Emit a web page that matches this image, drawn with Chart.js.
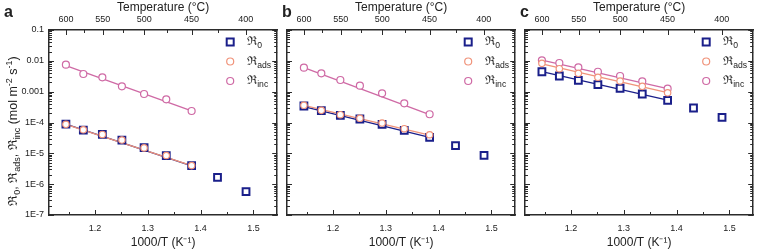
<!DOCTYPE html>
<html>
<head>
<meta charset="utf-8">
<script src="https://cdn.jsdelivr.net/npm/chart.js@4.4.1/dist/chart.umd.min.js"></script>
<style>
  body { margin: 0; background: #fff; }
  #wrap { position: relative; width: 760px; height: 252px; overflow: hidden; }
  canvas { position: absolute; top: 0; }
</style>
</head>
<body>
<div id="wrap">
  <canvas id="chartA" width="284" height="252" style="left:0"></canvas>
  <canvas id="chartB" width="244" height="252" style="left:278px"></canvas>
  <canvas id="chartC" width="244" height="252" style="left:516px"></canvas>
</div>
<script>
// x positions: 1000/T for 600..400 °C in 25 °C steps
const invT = [1.145, 1.178, 1.214, 1.251, 1.293, 1.335, 1.383, 1.432, 1.486];
const fitX = [1.145, 1.383];

const tempTicks = [600, 575, 550, 525, 500, 475, 450, 425, 400];
const tempLabels = ["600", "", "550", "", "500", "", "450", "", "400"];
const xTicks = [1.15, 1.2, 1.25, 1.3, 1.35, 1.4, 1.45, 1.5];
const xTickLabels = ["", "1.2", "", "1.3", "", "1.4", "", "1.5"];
const yDecades = [1e-7, 1e-6, 1e-5, 1e-4, 1e-3, 1e-2, 1e-1];
const yTickLabels = ["1E-7", "1E-6", "1E-5", "1E-4", "0.001", "0.01", "0.1"];

// panel a
const aR0 = [8.9e-5, 5.7e-5, 4.1e-5, 2.7e-5, 1.52e-5, 8.4e-6, 3.97e-6, 1.67e-6, 5.7e-7];
const aAds = [8.7e-5, 5.8e-5, 4.1e-5, 2.7e-5, 1.5e-5, 8.5e-6, 4.0e-6];
const aInc = [7.5e-3, 3.74e-3, 2.92e-3, 1.49e-3, 8.4e-4, 5.65e-4, 2.36e-4];
const aR0Fit = [8.9e-5, 3.9e-6];
const aAdsFit = [8.7e-5, 4.0e-6];
const aIncFit = [7.0e-3, 2.4e-4];

// panel b
const bR0 = [3.43e-4, 2.41e-4, 1.71e-4, 1.30e-4, 8.73e-5, 5.58e-5, 3.31e-5, 1.77e-5, 8.6e-6];
const bAds = [3.61e-4, 2.48e-4, 1.79e-4, 1.37e-4, 9.6e-5, 6.3e-5, 4.0e-5];
const bInc = [5.98e-3, 3.94e-3, 2.39e-3, 1.56e-3, 8.85e-4, 4.19e-4, 1.85e-4];
const bR0Fit = [3.3e-4, 3.3e-5];
const bAdsFit = [3.6e-4, 3.9e-5];
const bIncFit = [6.0e-3, 1.8e-4];

// panel c
const cR0 = [4.43e-3, 3.22e-3, 2.34e-3, 1.68e-3, 1.29e-3, 8.4e-4, 5.25e-4, 2.95e-4, 1.47e-4];
const cAds = [8.3e-3, 5.56e-3, 3.94e-3, 2.92e-3, 2.22e-3, 1.49e-3, 9.2e-4];
const cInc = [1.04e-2, 8.5e-3, 6.17e-3, 4.43e-3, 3.22e-3, 2.17e-3, 1.25e-3];
const cR0Fit = [4.5e-3, 5.3e-4];
const cAdsFit = [7.9e-3, 9.3e-4];
const cIncFit = [1.05e-2, 1.25e-3];

const FONT = '"Liberation Sans", Arial, sans-serif';
const FRAME = "#2b2b2b";
const TXT = "#222";
const NAVY = "#1a1f8a";
const ORANGE = "#f0937a";
const PINK = "#cf6aa5";

const toXY = (xs, ys) => ys.map((y, i) => ({ x: xs[i], y }));

// draw text with sub/superscripts, centred on (x, y)
function drawRich(ctx, runs, x, y, size, align) {
  const fontOf = (k) => (k === "n" ? size : size * 0.72) + "px " + FONT;
  let w = 0;
  runs.forEach(([t, k]) => { ctx.font = fontOf(k); w += ctx.measureText(t).width; });
  let cx = align === "left" ? x : x - w / 2;
  ctx.textAlign = "left";
  ctx.textBaseline = "middle";
  runs.forEach(([t, k]) => {
    ctx.font = fontOf(k);
    const dy = k === "sub" ? size * 0.32 : k === "sup" ? -size * 0.38 : 0;
    ctx.fillText(t, cx, y + dy);
    cx += ctx.measureText(t).width;
  });
}

const inwardTicks = {
  id: "inwardTicks",
  afterDraw(chart) {
    const { ctx, chartArea: ca } = chart;
    ctx.save();
    ctx.strokeStyle = FRAME;
    ctx.lineWidth = 1;
    Object.values(chart.scales).forEach((s) => {
      s.ticks.forEach((t) => {
        const p = Math.round(s.getPixelForValue(t.value)) + 0.5;
        const len = t.big ? 5 : 3;
        ctx.beginPath();
        if (s.position === "left") { ctx.moveTo(ca.left, p); ctx.lineTo(ca.left + len, p); }
        else if (s.position === "right") { ctx.moveTo(ca.right, p); ctx.lineTo(ca.right - len, p); }
        else if (s.position === "bottom") { ctx.moveTo(p, ca.bottom); ctx.lineTo(p, ca.bottom - len); }
        else { ctx.moveTo(p, ca.top); ctx.lineTo(p, ca.top + len); }
        ctx.stroke();
      });
    });
    ctx.restore();
  },
};

const legendAndLabels = {
  id: "legendAndLabels",
  afterDraw(chart) {
    const { ctx, chartArea: ca } = chart;
    const o = chart.options.plugins.legendAndLabels;
    ctx.save();
    ctx.fillStyle = TXT;
    ctx.font = "bold 16px " + FONT;
    ctx.textAlign = "left";
    ctx.textBaseline = "alphabetic";
    ctx.fillText(o.letter, 4, 17);

    const rows = [
      { sub: "0", style: "rect", color: NAVY },
      { sub: "ads", style: "circle", color: ORANGE },
      { sub: "inc", style: "circle", color: PINK },
    ];
    rows.forEach((r, i) => {
      const y = 42 + i * 19.5;
      const mx = ca.right - 47;
      ctx.strokeStyle = r.color;
      ctx.fillStyle = "#fff";
      if (r.style === "rect") {
        ctx.lineWidth = 2;
        ctx.fillRect(mx - 3.5, y - 3.5, 7, 7);
        ctx.strokeRect(mx - 3.5, y - 3.5, 7, 7);
      } else {
        ctx.lineWidth = 1.2;
        ctx.beginPath();
        ctx.arc(mx, y, 3.5, 0, Math.PI * 2);
        ctx.fill();
        ctx.stroke();
      }
      ctx.fillStyle = TXT;
      drawRich(ctx, [["ℜ", "n"], [r.sub, "sub"]], ca.right - 30, y, 12, "left");
    });

    if (o.yTitle) {
      ctx.translate(14, 131);
      ctx.rotate(-Math.PI / 2);
      ctx.fillStyle = TXT;
      drawRich(ctx, [
        ["ℜ", "n"], ["0", "sub"], [", ℜ", "n"], ["ads", "sub"], [", ℜ", "n"], ["inc", "sub"],
        [" (mol m", "n"], ["-2", "sup"], [" s", "n"], ["-1", "sup"], [")", "n"],
      ], 0, 0, 12.5, "center");
    }
    ctx.restore();
  },
};

function buildChart(id, p) {
  const pts = (data, color, style, r, bw, order) => ({
    type: "scatter",
    data: data,
    showLine: false,
    borderColor: color,
    backgroundColor: "#fff",
    pointStyle: style,
    pointRadius: r,
    pointBorderWidth: bw,
    order,
  });
  const fit = (data, color, order) => ({
    type: "line",
    data: data,
    showLine: true,
    borderColor: color,
    borderWidth: 1.3,
    pointRadius: 0,
    fill: false,
    order,
  });

  const tickFont = { size: 9, family: FONT };
  return new Chart(document.getElementById(id), {
    type: "scatter",
    data: {
      datasets: [
        pts(toXY(invT, p.ads), ORANGE, "circle", 3.2, 1.2, 0),
        pts(toXY(invT, p.inc), PINK, "circle", 3.5, 1.2, 1),
        pts(toXY(invT, p.r0), NAVY, "rect", 4.8, 2, 2),
        fit(toXY(fitX, p.incFit), PINK, 3),
        fit(toXY(fitX, p.adsFit), ORANGE, 4),
        fit(toXY(fitX, p.r0Fit), NAVY, 5),
      ],
    },
    options: {
      responsive: false,
      animation: false,
      devicePixelRatio: 1,
      layout: { padding: 0 },
      plugins: {
        legend: { display: false },
        tooltip: { enabled: false },
        legendAndLabels: { letter: p.letter, yTitle: p.yTitle },
      },
      scales: {
        x: {
          type: "linear",
          position: "bottom",
          min: 1.113,
          max: 1.545,
          grid: { display: false, drawTicks: false },
          border: { display: true, color: FRAME, width: 1.5 },
          afterBuildTicks: (s) => {
            s.ticks = xTicks.map((v, i) => ({ value: v, big: xTickLabels[i] !== "", lbl: xTickLabels[i] }));
          },
          afterFit: (s) => { s.height = 37; },
          ticks: {
            autoSkip: false,
            maxRotation: 0,
            padding: 8,
            color: TXT,
            font: tickFont,
            callback: (v, i, ticks) => ticks[i].lbl,
          },
          title: {
            display: true,
            text: "1000/T (K⁻¹)",
            color: TXT,
            font: { size: 12, family: FONT },
            padding: { top: 0, bottom: 2 },
          },
        },
        xTop: {
          type: "linear",
          position: "top",
          min: 1.113,
          max: 1.545,
          grid: { display: false, drawTicks: false },
          border: { display: true, color: FRAME, width: 1.5 },
          afterBuildTicks: (s) => {
            s.ticks = tempTicks.map((t, i) => ({ value: 1000 / (t + 273.15), big: tempLabels[i] !== "", lbl: tempLabels[i] }));
          },
          afterFit: (s) => { s.height = 30; },
          ticks: {
            autoSkip: false,
            maxRotation: 0,
            padding: 5,
            color: TXT,
            font: tickFont,
            callback: (v, i, ticks) => ticks[i].lbl,
          },
          title: {
            display: true,
            text: "Temperature (°C)",
            color: TXT,
            font: { size: 12, family: FONT },
            padding: { top: 0, bottom: 0 },
          },
        },
        y: {
          type: "logarithmic",
          position: "left",
          min: 1e-7,
          max: 0.1,
          grid: { display: false, drawTicks: false },
          border: { display: true, color: FRAME, width: 1.5 },
          afterBuildTicks: (s) => {
            const out = [];
            yDecades.forEach((d, k) => {
              for (let m = 1; m <= 9; m++) {
                if (k === yDecades.length - 1 && m > 1) break;
                out.push({ value: m * d, big: m === 1, lbl: m === 1 ? yTickLabels[k] : "" });
              }
            });
            s.ticks = out;
          },
          afterFit: (s) => { s.width = p.yW; },
          ticks: {
            display: p.yTitle,
            autoSkip: false,
            padding: 5,
            color: TXT,
            font: tickFont,
            callback: (v, i, ticks) => ticks[i].lbl,
          },
        },
        yRight: {
          type: "logarithmic",
          position: "right",
          min: 1e-7,
          max: 0.1,
          grid: { display: false, drawTicks: false },
          border: { display: true, color: FRAME, width: 1.5 },
          afterBuildTicks: (s) => {
            const out = [];
            yDecades.forEach((d, k) => {
              for (let m = 1; m <= 9; m++) {
                if (k === yDecades.length - 1 && m > 1) break;
                out.push({ value: m * d, big: m === 1 });
              }
            });
            s.ticks = out;
          },
          afterFit: (s) => { s.width = p.rW; },
          ticks: { display: false },
        },
      },
    },
    plugins: [inwardTicks, legendAndLabels],
  });
}

buildChart("chartA", {
  letter: "a", yTitle: true, yW: 49, rW: 4,
  r0: aR0, ads: aAds, inc: aInc, r0Fit: aR0Fit, adsFit: aAdsFit, incFit: aIncFit,
});
buildChart("chartB", {
  letter: "b", yTitle: false, yW: 9, rW: 2,
  r0: bR0, ads: bAds, inc: bInc, r0Fit: bR0Fit, adsFit: bAdsFit, incFit: bIncFit,
});
buildChart("chartC", {
  letter: "c", yTitle: false, yW: 9, rW: 2,
  r0: cR0, ads: cAds, inc: cInc, r0Fit: cR0Fit, adsFit: cAdsFit, incFit: cIncFit,
});
</script>
</body>
</html>
